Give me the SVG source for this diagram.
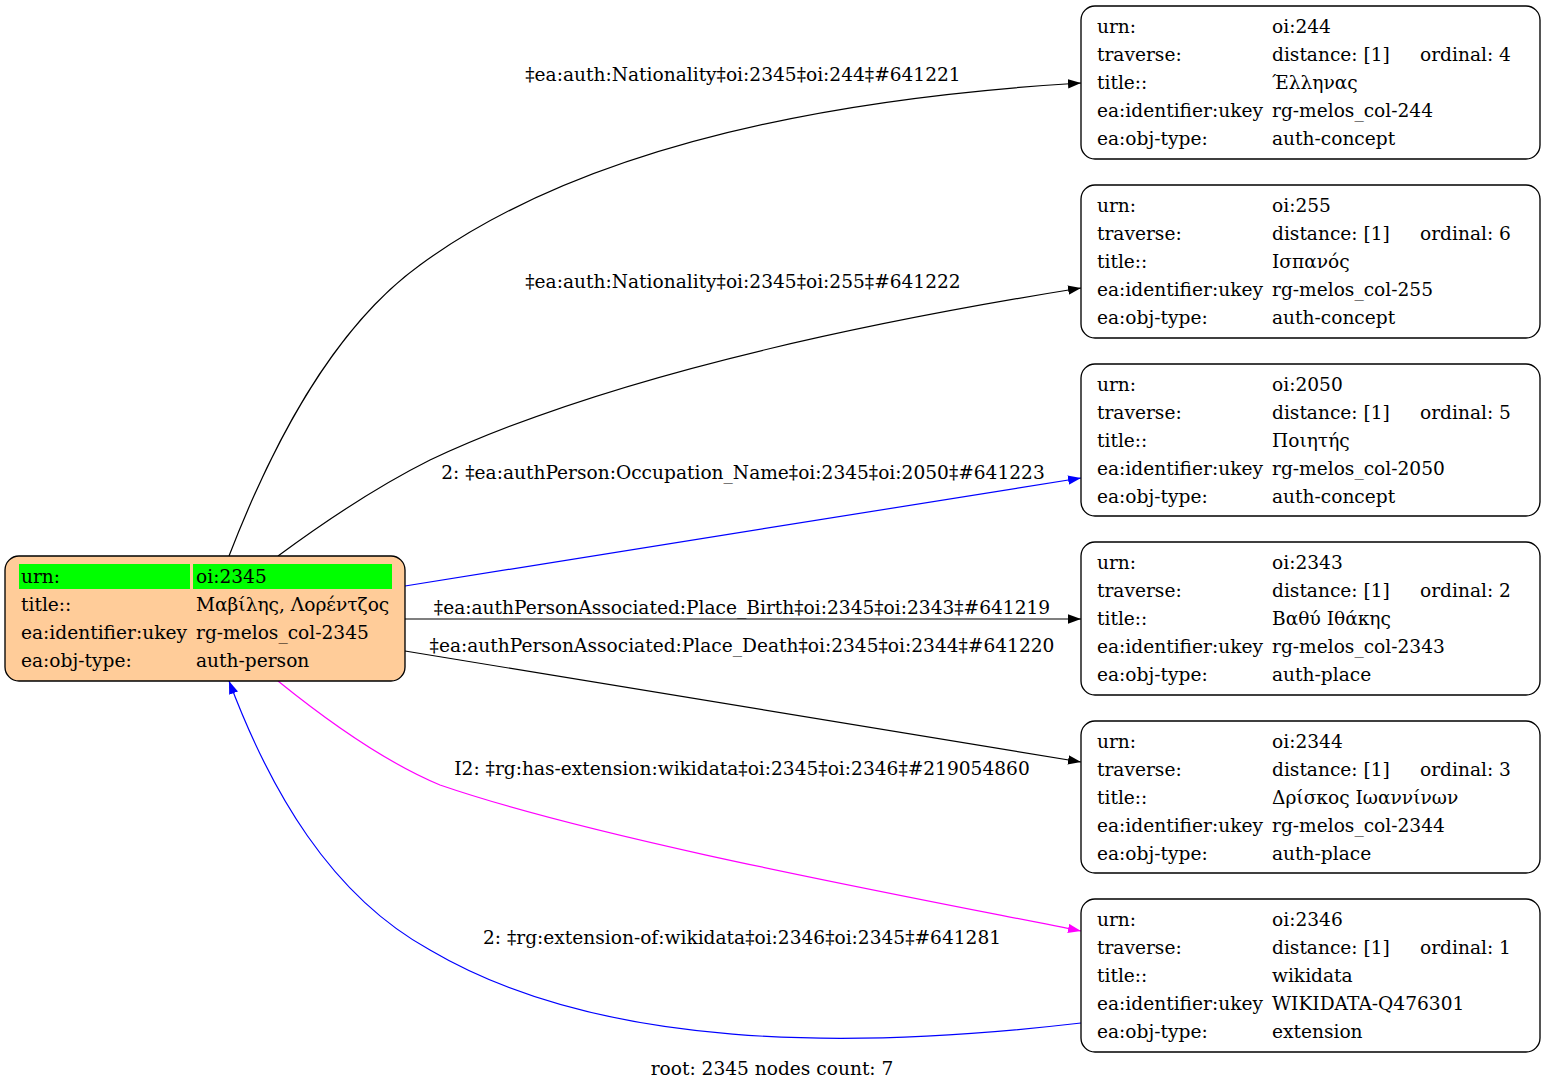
<svg xmlns="http://www.w3.org/2000/svg" width="1545" height="1089" viewBox="0 0 1545 1089">
<style>
text{font-family:"DejaVu Serif","Liberation Serif",serif;font-size:18.6px;fill:#000}
.e{fill:none;stroke-width:1.2}
.node{fill:#fff;stroke:#000;stroke-width:1.33}
</style>
<defs>
<marker id="ak" markerWidth="13" markerHeight="10" refX="13" refY="4.7" orient="auto" markerUnits="userSpaceOnUse"><path d="M0,0 L13,4.7 L0,9.4 z" fill="#000"/></marker>
<marker id="ab" markerWidth="13" markerHeight="10" refX="13" refY="4.7" orient="auto" markerUnits="userSpaceOnUse"><path d="M0,0 L13,4.7 L0,9.4 z" fill="#00f"/></marker>
<marker id="am" markerWidth="13" markerHeight="10" refX="13" refY="4.7" orient="auto" markerUnits="userSpaceOnUse"><path d="M0,0 L13,4.7 L0,9.4 z" fill="#f0f"/></marker>
</defs>
<rect width="1545" height="1089" fill="#fff"/>
<g id="edges">
<path class="e" stroke="#000" marker-end="url(#ak)" d="M229,556 C270,450 330,330 420,265 C570,155 800,100 1081,83"/>
<text x="743" y="81" text-anchor="middle">‡ea:auth:Nationality‡oi:2345‡oi:244‡#641221</text>
<path class="e" stroke="#000" marker-end="url(#ak)" d="M278,556 C320,525 370,490 430,460 C600,380 850,325 1081,288"/>
<text x="743" y="288" text-anchor="middle">‡ea:auth:Nationality‡oi:2345‡oi:255‡#641222</text>
<path class="e" stroke="#00f" marker-end="url(#ab)" d="M405,586 L1081,478"/>
<text x="743" y="479" text-anchor="middle">2: ‡ea:authPerson:Occupation_Name‡oi:2345‡oi:2050‡#641223</text>
<path class="e" stroke="#000" marker-end="url(#ak)" d="M405,619 L1081,619"/>
<text x="742" y="614" text-anchor="middle">‡ea:authPersonAssociated:Place_Birth‡oi:2345‡oi:2343‡#641219</text>
<path class="e" stroke="#000" marker-end="url(#ak)" d="M405,651 L1081,762"/>
<text x="742" y="652" text-anchor="middle">‡ea:authPersonAssociated:Place_Death‡oi:2345‡oi:2344‡#641220</text>
<path class="e" stroke="#f0f" marker-end="url(#am)" d="M278,681 C320,715 380,760 440,785 C600,840 900,895 1081,931"/>
<text x="742" y="775" text-anchor="middle">I2: ‡rg:has-extension:wikidata‡oi:2345‡oi:2346‡#219054860</text>
<path class="e" stroke="#00f" marker-end="url(#ab)" d="M1081,1023 C850,1050 600,1050 430,950 C330,895 270,790 229,681"/>
<text x="742" y="944" text-anchor="middle">2: ‡rg:extension-of:wikidata‡oi:2346‡oi:2345‡#641281</text>
</g>
<g id="root">
<rect x="5" y="556" width="400" height="125" rx="14" fill="#ffcc99" stroke="#000" stroke-width="1.33"/>
<rect x="19" y="564" width="171" height="25" fill="#00ff00"/>
<rect x="193" y="564" width="199" height="25" fill="#00ff00"/>
<text x="21" y="583">urn:</text><text x="196" y="583">oi:2345</text>
<text x="21" y="611">title::</text><text x="196" y="611">Μαβίλης, Λορέντζος</text>
<text x="21" y="639">ea:identifier:ukey</text><text x="196" y="639">rg-melos_col-2345</text>
<text x="21" y="667">ea:obj-type:</text><text x="196" y="667">auth-person</text>
</g>
<g id="n244" transform="translate(1081,6)">
<rect class="node" width="459" height="153" rx="14"/>
<text x="16" y="27">urn:</text><text x="191" y="27">oi:244</text>
<text x="16" y="55">traverse:</text><text x="191" y="55">distance: [1]</text><text x="339" y="55">ordinal: 4</text>
<text x="16" y="83">title::</text><text x="191" y="83">Έλληνας</text>
<text x="16" y="111">ea:identifier:ukey</text><text x="191" y="111">rg-melos_col-244</text>
<text x="16" y="139">ea:obj-type:</text><text x="191" y="139">auth-concept</text>
</g>
<g id="n255" transform="translate(1081,185)">
<rect class="node" width="459" height="153" rx="14"/>
<text x="16" y="27">urn:</text><text x="191" y="27">oi:255</text>
<text x="16" y="55">traverse:</text><text x="191" y="55">distance: [1]</text><text x="339" y="55">ordinal: 6</text>
<text x="16" y="83">title::</text><text x="191" y="83">Ισπανός</text>
<text x="16" y="111">ea:identifier:ukey</text><text x="191" y="111">rg-melos_col-255</text>
<text x="16" y="139">ea:obj-type:</text><text x="191" y="139">auth-concept</text>
</g>
<g id="n2050" transform="translate(1081,364)">
<rect class="node" width="459" height="152" rx="14"/>
<text x="16" y="27">urn:</text><text x="191" y="27">oi:2050</text>
<text x="16" y="55">traverse:</text><text x="191" y="55">distance: [1]</text><text x="339" y="55">ordinal: 5</text>
<text x="16" y="83">title::</text><text x="191" y="83">Ποιητής</text>
<text x="16" y="111">ea:identifier:ukey</text><text x="191" y="111">rg-melos_col-2050</text>
<text x="16" y="139">ea:obj-type:</text><text x="191" y="139">auth-concept</text>
</g>
<g id="n2343" transform="translate(1081,542)">
<rect class="node" width="459" height="153" rx="14"/>
<text x="16" y="27">urn:</text><text x="191" y="27">oi:2343</text>
<text x="16" y="55">traverse:</text><text x="191" y="55">distance: [1]</text><text x="339" y="55">ordinal: 2</text>
<text x="16" y="83">title::</text><text x="191" y="83">Βαθύ Ιθάκης</text>
<text x="16" y="111">ea:identifier:ukey</text><text x="191" y="111">rg-melos_col-2343</text>
<text x="16" y="139">ea:obj-type:</text><text x="191" y="139">auth-place</text>
</g>
<g id="n2344" transform="translate(1081,721)">
<rect class="node" width="459" height="152" rx="14"/>
<text x="16" y="27">urn:</text><text x="191" y="27">oi:2344</text>
<text x="16" y="55">traverse:</text><text x="191" y="55">distance: [1]</text><text x="339" y="55">ordinal: 3</text>
<text x="16" y="83">title::</text><text x="191" y="83">Δρίσκος Ιωαννίνων</text>
<text x="16" y="111">ea:identifier:ukey</text><text x="191" y="111">rg-melos_col-2344</text>
<text x="16" y="139">ea:obj-type:</text><text x="191" y="139">auth-place</text>
</g>
<g id="n2346" transform="translate(1081,899)">
<rect class="node" width="459" height="153" rx="14"/>
<text x="16" y="27">urn:</text><text x="191" y="27">oi:2346</text>
<text x="16" y="55">traverse:</text><text x="191" y="55">distance: [1]</text><text x="339" y="55">ordinal: 1</text>
<text x="16" y="83">title::</text><text x="191" y="83">wikidata</text>
<text x="16" y="111">ea:identifier:ukey</text><text x="191" y="111">WIKIDATA-Q476301</text>
<text x="16" y="139">ea:obj-type:</text><text x="191" y="139">extension</text>
</g>
<text x="772" y="1075" text-anchor="middle">root: 2345 nodes count: 7</text>
</svg>
